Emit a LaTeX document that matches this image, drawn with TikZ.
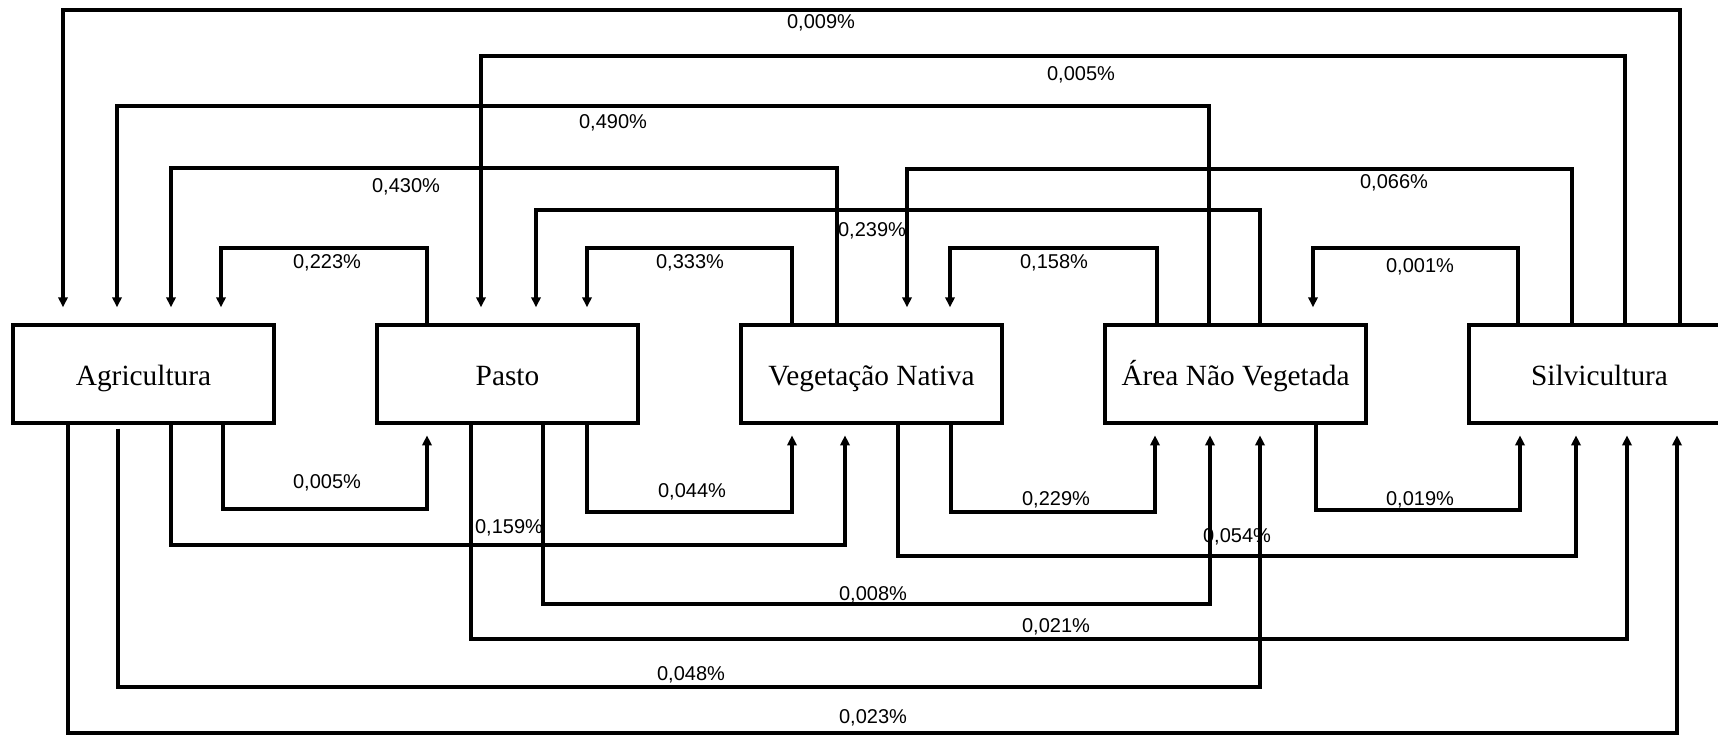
\documentclass[tikz,border=0pt]{standalone}
\usepackage{fontspec}
\setmainfont{Liberation Serif}
\newfontfamily\lblfont{Liberation Sans}
\usetikzlibrary{arrows.meta}
\begin{document}
\begin{tikzpicture}[x=0.75pt,y=-0.75pt,
  box/.style={draw, line width=2.6pt, minimum width=195.75pt, minimum height=73.5pt, inner sep=0pt, text height=19pt, text depth=2.5pt, font=\fontsize{22}{26}\selectfont},
  conn/.style={line width=2.5pt, -{Triangle[length=7.5pt,width=7pt]}},
  topc/.style={conn, shorten >=12pt},
  botc/.style={conn, shorten >=8pt},
  lbl/.style={font=\lblfont\fontsize{15}{18}\selectfont, inner sep=0pt}]
\useasboundingbox (0,0) rectangle (1718,736);
\clip (0,0) rectangle (1718,736);
\node[box] (Agr) at (143.5,374) {Agricultura};
\node[box] (Pas) at (507.5,374) {Pasto};
\node[box] (VN) at (871.5,374) {Vegetação Nativa};
\node[box] (ANV) at (1235.5,374) {Área Não Vegetada};
\node[box] (Sil) at (1599.5,374) {Silvicultura};
% top connectors
\draw[topc] (Sil.north -| 1680,0) |- (63,10) -- (Agr.north -| 63,0);
\draw[topc] (Sil.north -| 1625,0) |- (481,56) -- (Pas.north -| 481,0);
\draw[topc] (ANV.north -| 1209,0) |- (117,106) -- (Agr.north -| 117,0);
\draw[topc] (VN.north -| 837,0) |- (171,168) -- (Agr.north -| 171,0);
\draw[topc] (Sil.north -| 1572,0) |- (907,169) -- (VN.north -| 907,0);
\draw[topc] (ANV.north -| 1260,0) |- (536,210) -- (Pas.north -| 536,0);
\draw[topc] (Pas.north -| 427,0) |- (221,248) -- (Agr.north -| 221,0);
\draw[topc] (VN.north -| 792,0) |- (587,248) -- (Pas.north -| 587,0);
\draw[topc] (ANV.north -| 1157,0) |- (950,248) -- (VN.north -| 950,0);
\draw[topc] (Sil.north -| 1518,0) |- (1313,248) -- (ANV.north -| 1313,0);
% bottom connectors
\draw[botc] (Agr.south -| 223,0) |- (427,509) -- (Pas.south -| 427,0);
\draw[botc] (Pas.south -| 587,0) |- (792,512) -- (VN.south -| 792,0);
\draw[botc] (VN.south -| 951,0) |- (1155,512) -- (ANV.south -| 1155,0);
\draw[botc] (ANV.south -| 1316,0) |- (1520,510) -- (Sil.south -| 1520,0);
\draw[botc] (Agr.south -| 171,0) |- (845,545) -- (VN.south -| 845,0);
\draw[botc] (VN.south -| 898,0) |- (1576,556) -- (Sil.south -| 1576,0);
\draw[botc] (Pas.south -| 543,0) |- (1210,604) -- (ANV.south -| 1210,0);
\draw[botc] (Pas.south -| 471,0) |- (1627,639) -- (Sil.south -| 1627,0);
\draw[botc, shorten <=3pt] (Agr.south -| 118,0) |- (1260,687) -- (ANV.south -| 1260,0);
\draw[botc] (Agr.south -| 68,0) |- (1677,733) -- (Sil.south -| 1677,0);
% labels
\node[lbl] (l1) at (821,23) {0,009\%};
\node[lbl] (l2) at (1081,75) {0,005\%};
\node[lbl] (l3) at (613,123) {0,490\%};
\node[lbl] (l4) at (406,187) {0,430\%};
\node[lbl] (l5) at (1394,183) {0,066\%};
\node[lbl] (l6) at (872,231) {0,239\%};
\node[lbl] (l7) at (327,263) {0,223\%};
\node[lbl] (l8) at (690,263) {0,333\%};
\node[lbl] (l9) at (1054,263) {0,158\%};
\node[lbl] (l10) at (1420,267) {0,001\%};
\node[lbl] (l11) at (327,483) {0,005\%};
\node[lbl] (l12) at (692,492) {0,044\%};
\node[lbl] (l13) at (1056,500) {0,229\%};
\node[lbl] (l14) at (1420,500) {0,019\%};
\node[lbl] (l15) at (509,528) {0,159\%};
\node[lbl] (l16) at (1237,537) {0,054\%};
\node[lbl] (l17) at (873,595) {0,008\%};
\node[lbl] (l18) at (1056,627) {0,021\%};
\node[lbl] (l19) at (691,675) {0,048\%};
\node[lbl] (l20) at (873,718) {0,023\%};
\end{tikzpicture}
\end{document}
